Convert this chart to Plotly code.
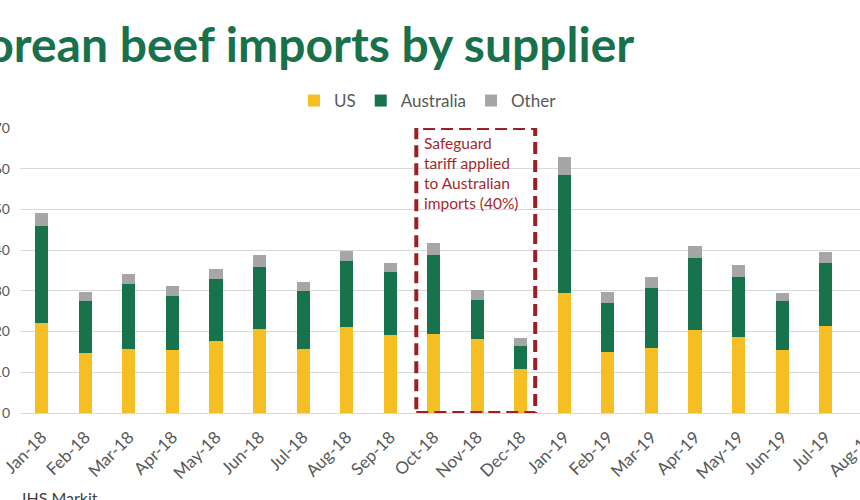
import plotly.graph_objects as go

months = ["Jan-18", "Feb-18", "Mar-18", "Apr-18", "May-18", "Jun-18", "Jul-18",
          "Aug-18", "Sep-18", "Oct-18", "Nov-18", "Dec-18", "Jan-19", "Feb-19",
          "Mar-19", "Apr-19", "May-19", "Jun-19", "Jul-19", "Aug-19"]
us = [22.2, 14.7, 15.8, 15.5, 17.6, 20.7, 15.6, 21.1, 19.1, 19.5, 18.1, 10.7,
      29.5, 14.9, 16.0, 20.4, 18.7, 15.5, 21.4, None]
australia = [23.7, 12.7, 15.8, 13.2, 15.2, 15.2, 14.4, 16.2, 15.6, 19.3, 9.6, 5.7,
             28.9, 12.2, 14.7, 17.7, 14.7, 12.0, 15.5, None]
other = [3.3, 2.2, 2.5, 2.6, 2.5, 3.0, 2.2, 2.6, 2.1, 3.0, 2.6, 2.0,
         4.5, 2.7, 2.6, 3.0, 3.0, 2.0, 2.7, None]
y_ticks = [0, 10, 20, 30, 40, 50, 60, 70]

FONT = "Lato"
C_US = "#F5BE22"
C_AUS = "#17734B"
C_OTH = "#A6A6A6"
C_RED = "#9B1F24"
TXT = "#595959"

fig = go.Figure()
for name, vals, col in [("US", us, C_US), ("Australia", australia, C_AUS), ("Other", other, C_OTH)]:
    fig.add_trace(go.Bar(x=months, y=vals, name=name, marker=dict(color=col, line=dict(width=0))))

W, H = 900, 500
L, R, T, B = 20, 9, 128, 87

fig.update_layout(
    width=W, height=H,
    margin=dict(l=L, r=R, t=T, b=B, autoexpand=False),
    barmode="stack", bargap=0.70,
    plot_bgcolor="white", paper_bgcolor="white",
    font=dict(family=FONT, color=TXT, size=14),
    showlegend=True,
    legend=dict(orientation="h", x=(428 - L) / (W - L - R), xanchor="center",
                y=(H - B - 101) / (H - T - B), yanchor="middle",
                font=dict(size=17, color=TXT), itemwidth=30, traceorder="normal",
                bgcolor="rgba(0,0,0,0)"),
    xaxis=dict(type="category", categoryorder="array", categoryarray=months,
               tickangle=-45, tickfont=dict(size=17, color=TXT), showgrid=False,
               showline=False, ticks="", range=[-0.5, 19.5], automargin=False,
               ticklabelstandoff=10),
    yaxis=dict(range=[0, 70], tickvals=y_ticks, showgrid=True, gridcolor="#D9D9D9",
               gridwidth=1, zeroline=True, zerolinecolor="#D9D9D9", zerolinewidth=1,
               showline=False, ticks="", tickfont=dict(size=14, color=TXT),
               ticklabelstandoff=9, automargin=False),
)

plot_w = W - L - R
plot_h = H - T - B

# title (left part cut off like the reference crop)
fig.add_annotation(text="<b>Korean beef imports by supplier</b>", xref="paper", yref="paper",
                   x=(-47 - L) / plot_w, xanchor="left", y=(H - B - 44) / plot_h, yanchor="middle",
                   showarrow=False, font=dict(family=FONT, size=48, color="#18714A"))

# safeguard box
fig.add_shape(type="rect", xref="x", yref="y", x0=8.6, x1=11.33, y0=0, y1=70,
              line=dict(color=C_RED, width=4, dash="12px,6px"), fillcolor="rgba(0,0,0,0)",
              layer="above")
fig.add_annotation(text="Safeguard<br>tariff applied<br>to Australian<br>imports (40%)",
                   xref="x", yref="y", x=8.6, y=70, xanchor="left", yanchor="top",
                   xshift=6, yshift=-4, align="left", showarrow=False,
                   font=dict(family=FONT, size=15.5, color="#A3292E"))

# source (partly cut at bottom like the reference)
fig.add_annotation(text="IHS Markit", xref="paper", yref="paper", x=0, xanchor="left",
                   y=(H - B - 486) / plot_h, yanchor="top", showarrow=False,
                   font=dict(family=FONT, size=16, color="#404040"))

fig.write_html("out.html", post_script="document.documentElement.style.overflow='hidden';document.body.style.overflow='hidden';")
